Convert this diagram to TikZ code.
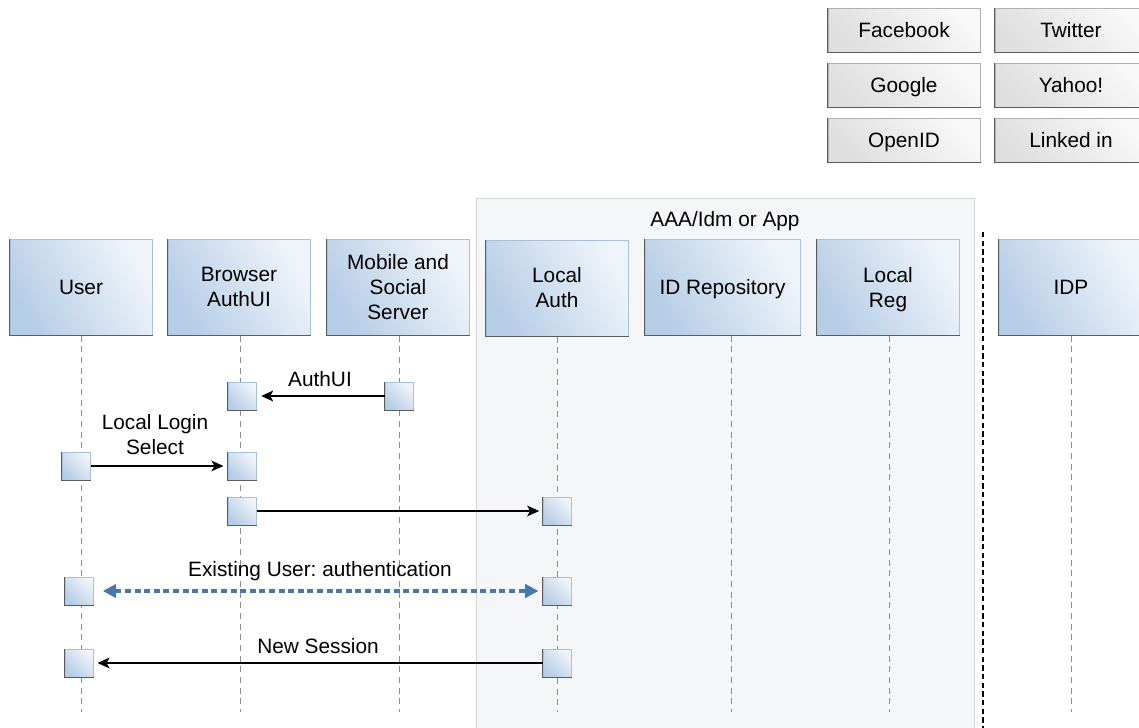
\documentclass[tikz,border=0pt]{standalone}
\usepackage{fontspec}
\setmainfont{Liberation Sans}
\frenchspacing
\usetikzlibrary{arrows.meta}
\definecolor{hdrdark}{HTML}{B6CDE6}
\definecolor{hdrlight}{HTML}{EFF4FA}
\definecolor{hdrborder}{HTML}{A7C1DD}
\definecolor{btndark}{HTML}{DFDFDF}
\definecolor{btnlight}{HTML}{F8F8F8}
\definecolor{btnborder}{HTML}{B0B0B0}
\definecolor{edge}{HTML}{5C5C5C}
\definecolor{contfill}{HTML}{F5F6F7}
\definecolor{contborder}{HTML}{D6D6D6}
\definecolor{lifegray}{HTML}{8C8C8C}
\definecolor{dotblue}{HTML}{4A78AB}
\tikzset{
  txt/.style={font=\fontsize{15.6}{18.75}\selectfont, align=center, text=black},
  oneline/.style={text height=11.5pt, text depth=0.4pt},
  hdr/.style={txt, rectangle, draw=hdrborder, line width=0.75pt, top color=hdrlight, bottom color=hdrdark, shading angle=-60, minimum width=106.5pt, minimum height=72pt, inner sep=0pt},
  actbox/.style={rectangle, draw=hdrborder, line width=0.75pt, top color=hdrlight, bottom color=hdrdark, shading angle=-45, minimum width=21pt, minimum height=21pt, inner sep=0pt},
  btn/.style={txt, oneline, rectangle, draw=btnborder, line width=0.75pt, top color=btnlight, bottom color=btndark, shading angle=-45, minimum width=114pt, minimum height=33pt, inner sep=0pt},
  shadowedge/.style={draw=edge, line width=1pt},
  life/.style={draw=lifegray, line width=0.75pt, dash pattern=on 4.5pt off 3.5pt},
  msg/.style={draw=black, line width=1.4pt, -{Stealth[length=9pt,width=8pt,inset=2.2pt]}},
  dotmsg/.style={draw=dotblue, line width=3pt, dash pattern=on 4.5pt off 2.7pt, {Triangle[length=10pt,width=10pt]}-{Triangle[length=10pt,width=10pt]}},
  container/.style={rectangle, draw=contborder, fill=contfill, line width=0.75pt, inner sep=0pt},
  sepline/.style={draw=black, line width=1.2pt, dash pattern=on 4pt off 2.5pt},
}
\newcommand{\edgeLB}[1]{\draw[shadowedge] (#1.north west) -- (#1.south west) -- (#1.south east);}
\begin{document}
\begin{tikzpicture}[x=0.75pt,y=-0.75pt]
\useasboundingbox (0,0) rectangle (1139,728);
% container
\node[container, minimum width=373.5pt, minimum height=406.5pt] (aaa) at (725,469) {};
\node[txt, oneline] (aaatitle) at (725,219) {AAA/Idm or App};
% separator
\coordinate (sepTop) at (983,232);
\coordinate (sepBot) at (983,728);
\draw[sepline] (sepTop) -- (sepBot);
% buttons
\node[btn] (fb) at (904,30) {Facebook};
\node[btn] (tw) at (1071,30) {Twitter};
\node[btn] (gg) at (904,85) {Google};
\node[btn] (ya) at (1071,85) {Yahoo!};
\node[btn] (oi) at (904,140) {OpenID};
\node[btn] (li) at (1071,140) {Linked in};
\foreach \n in {fb,tw,gg,ya,oi,li} {\edgeLB{\n}}
% headers
\node[hdr, oneline] (user) at (81,287) {User};
\node[hdr] (browser) at (239,287) {Browser\\AuthUI};
\node[hdr] (mobile) at (398,287) {Mobile and\\Social\\Server};
\node[hdr] (lauth) at (557,288) {Local\\Auth};
\node[hdr, oneline, minimum width=116.25pt] (idrepo) at (722.5,287) {ID Repository};
\node[hdr] (lreg) at (888,287) {};
\node[txt] (lregtxt) at (888,290) {Local\\Reg};
\node[hdr, oneline, minimum width=108pt] (idp) at (1071,287) {IDP};
\foreach \n in {user,browser,mobile,lauth,idrepo,lreg,idp} {\edgeLB{\n}}
% lifelines
\foreach \n/\x in {user/81,browser/240,mobile/399,lauth/557,idrepo/731,lreg/889,idp/1071} {
  \draw[life] (\n.south -| \x,0) -- (\x,712);
}
% activation boxes
\node[actbox] (b1) at (242,396) {};
\node[actbox] (m1) at (399,396) {};
\node[actbox] (u1) at (76,466) {};
\node[actbox] (b2) at (242,466) {};
\node[actbox] (b3) at (242,511) {};
\node[actbox] (l1) at (557,511) {};
\node[actbox] (u2) at (79,591) {};
\node[actbox] (l2) at (557,591) {};
\node[actbox] (u3) at (79,663) {};
\node[actbox] (l3) at (557,663) {};
\foreach \n in {b1,m1,u1,b2,b3,l1,u2,l2,u3,l3} {\edgeLB{\n}}
% messages
\draw[msg, shorten >=3.5pt] (m1.west) -- (b1.east);
\node[txt, oneline] (lblauthui) at (320,379) {AuthUI};
\draw[msg, shorten >=3pt] (u1.east) -- (b2.west);
\node[txt] (lbllogin) at (155,435) {Local Login\\Select};
\draw[msg, shorten >=2.5pt] (b3.east) -- (l1.west);
\draw[dotmsg, shorten <=7pt, shorten >=3pt] (u2.east) -- (l2.west);
\node[txt, oneline] (lblexist) at (320,569) {Existing User: authentication};
\draw[msg, shorten >=3pt] (l3.west) -- (u3.east);
\node[txt, oneline] (lblsess) at (318,646) {New Session};
\end{tikzpicture}
\end{document}
